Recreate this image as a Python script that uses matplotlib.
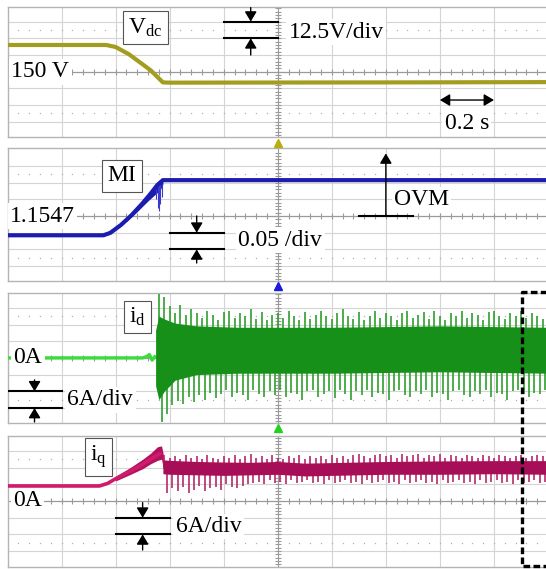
import numpy as np
import matplotlib.pyplot as plt
from matplotlib.lines import Line2D

plt.rcParams['font.family'] = ['Liberation Serif', 'DejaVu Serif']
plt.rcParams['mathtext.fontset'] = 'custom'
plt.rcParams['mathtext.rm'] = 'Liberation Serif'
plt.rcParams['mathtext.it'] = 'Liberation Serif:italic'

# ---- values (time in s) ----
vdc_t = [0.00, 0.365, 0.40, 0.45, 0.50, 0.53, 0.56, 0.575, 0.60, 1.00, 1.50, 2.00]
vdc_v = [170.0, 170.0, 168.5, 163.0, 155.5, 151.0, 145.0, 142.0, 141.8, 141.9, 142.0, 142.2]

mi_t = [0.00, 0.355, 0.38, 0.42, 0.46, 0.50, 0.53, 0.555, 0.575, 2.00]
mi_v = [1.097, 1.097, 1.104, 1.128, 1.158, 1.193, 1.222, 1.248, 1.262, 1.262]
mi_band_t = [0.44, 0.48, 0.52, 0.55, 0.565, 0.575]
mi_band_lo = [1.138, 1.168, 1.200, 1.222, 1.232, 1.250]
mi_spike_t = [0.548, 0.556, 0.561, 0.566, 0.571]
mi_spike_lo = [1.205, 1.180, 1.170, 1.190, 1.212]

id_pre_t = [0.00, 0.50, 0.515, 0.525, 0.535, 0.545]
id_pre_v = [0.0, 0.0, 0.5, 1.2, -0.8, 0.4]
id_core_t = [0.548, 0.56, 0.58, 0.62, 0.70, 0.85, 1.20, 1.60, 2.00]
id_core_hi = [10.0, 15.0, 14.0, 12.5, 11.5, 11.0, 11.0, 11.5, 11.0]
id_core_lo = [-10.0, -15.0, -12.0, -8.0, -6.0, -5.5, -5.5, -5.0, -5.5]
id_spike_hi = [
    23.0, 22.0, 18.5, 16.0, 19.0, 15.5, 17.5, 16.0, 14.5, 17.0,
    15.5, 13.5, 16.5, 17.0, 14.5, 16.0, 15.0, 17.5, 14.0, 16.5,
    13.5, 15.5, 16.0, 14.5, 17.0, 15.0, 13.5, 16.5, 14.0, 15.5,
    17.0, 15.0, 14.0, 16.0, 17.5, 15.0, 14.0, 16.5, 13.5, 15.0,
    17.0, 14.5, 16.0, 15.0, 13.5, 16.0, 17.0, 14.5, 15.5, 16.5,
    14.0, 17.0, 15.0, 13.5, 16.0, 15.0, 17.0, 14.5, 16.0, 15.5,
    13.5, 16.5, 17.0, 15.0, 14.0, 16.0, 15.0, 17.0, 14.5, 16.0,
    15.0, 14.0, 16.5]
id_spike_lo = [
    -23.0, -20.0, -17.0, -15.5, -16.5, -14.0, -16.0, -13.5, -15.0, -12.5,
    -14.5, -13.0, -11.5, -14.0, -12.5, -13.5, -15.0, -11.5, -13.0, -14.0,
    -12.0, -13.5, -11.5, -14.0, -12.5, -13.0, -15.0, -12.0, -11.5, -14.0,
    -13.0, -12.0, -14.5, -11.5, -13.0, -15.0, -12.0, -13.5, -11.5, -14.0,
    -12.5, -13.0, -15.0, -12.0, -11.5, -13.5, -14.0, -12.0, -13.0, -11.5,
    -14.0, -12.5, -13.0, -15.0, -12.0, -11.5, -13.5, -14.0, -12.0, -13.0,
    -11.5, -14.0, -12.5, -13.0, -15.0, -12.0, -11.5, -13.0, -14.0, -12.5,
    -13.0, -11.5, -14.0]

iq_t = [0.00, 0.34, 0.37, 0.40, 0.43, 0.46, 0.49, 0.52, 0.55, 0.565]
iq_v = [5.4, 5.4, 6.3, 8.0, 9.6, 11.0, 12.6, 14.4, 16.3, 17.0]
iq_band_t = [0.40, 0.46, 0.50, 0.53, 0.555, 0.57, 0.578]
iq_band_hi = [8.8, 12.4, 15.0, 17.2, 19.5, 19.8, 16.0]
iq_band_lo = [7.2, 9.8, 11.6, 13.4, 14.6, 15.0, 11.0]
iq_core_t = [0.575, 0.60, 0.70, 0.80, 0.90, 1.00, 1.10, 1.20, 1.40, 1.60, 1.80, 2.00]
iq_core_hi = [14.8, 14.6, 14.2, 14.0, 13.9, 14.2, 13.6, 13.8, 14.2, 14.4, 14.5, 14.5]
iq_core_lo = [9.8, 9.6, 9.4, 9.2, 9.4, 9.6, 9.0, 9.2, 9.6, 9.6, 9.8, 9.6]
iq_spike_hi = [
    16.5, 15.5, 16.0, 15.0, 16.5, 15.5, 16.0, 15.0, 16.5, 15.5,
    15.0, 16.0, 15.5, 16.5, 15.0, 16.0, 17.0, 15.5, 16.0, 15.0,
    16.5, 15.5, 15.0, 16.0, 15.5, 16.5, 15.0, 16.0, 15.5, 16.0,
    15.0, 16.5, 15.5, 16.0, 15.0, 16.5, 17.0, 16.0, 15.5, 16.5,
    17.0, 16.0, 16.5, 15.5, 17.0, 16.0, 16.5, 17.0, 15.5, 16.5,
    16.0, 17.0, 15.5, 16.5, 16.0, 15.5, 16.5, 16.0, 15.5, 16.5,
    16.0, 15.5, 16.5, 16.0, 15.5, 16.0, 16.5, 15.5, 16.0, 16.5,
    16.0, 15.5]
iq_spike_lo = [
    3.0, 4.5, 3.5, 5.0, 3.0, 4.0, 5.5, 3.5, 4.5, 5.0, 4.0, 6.0, 5.0, 4.5, 5.5, 6.0,
    6.5, 7.0, 6.0, 7.5, 6.5, 7.0, 6.0, 7.5, 6.5, 7.0,
    7.5, 6.5, 7.0, 6.0, 7.5, 6.5, 7.0, 7.5, 6.5, 7.0,
    6.0, 7.5, 6.5, 7.0, 7.5, 6.5, 7.0, 6.0, 7.5, 6.5,
    7.0, 7.5, 6.5, 7.0, 6.0, 7.5, 6.5, 7.0, 7.5, 6.5,
    7.0, 6.0, 7.5, 6.5, 7.0, 7.5, 6.5, 7.0, 6.0, 7.5,
    6.5, 7.0, 7.5, 6.5, 7.0, 6.5]

id_spike_t = np.arange(0.56, 2.001, 0.02)
iq_spike_t = np.arange(0.58, 2.001, 0.02)

# ---- scope screen geometry (pixels) ----
W, H = 546, 569
X0 = 7.5
DIV_X = 54.05
DIV_Y = 16.7
ARROW = dict(arrowstyle='-|>,head_length=0.5,head_width=0.3', color='k',
             lw=1.0, mutation_scale=12, shrinkA=0, shrinkB=0)


def make_panel(fig, top, bottom, center, ref, per_div):
    ax = fig.add_axes([X0 / W, 1 - bottom / H, 10 * DIV_X / W, (bottom - top) / H])
    ax.set_xlim(0, 2.0)
    ax.set_ylim(ref - (bottom - center) / DIV_Y * per_div,
                ref + (center - top) / DIV_Y * per_div)
    ax.set_xticks([])
    ax.set_yticks([])
    for s in ax.spines.values():
        s.set_color('#b4b4b4')
        s.set_linewidth(1.0)
    for k in range(1, 10):
        ax.axvline(0.2 * k, color='#9a9a9a' if k == 5 else '#d4d4d4', lw=0.8, zorder=0)
    for d in (-3, -2, -1, 1, 2, 3):
        ax.axhline(ref + d * per_div, color='#d4d4d4', lw=0.8, zorder=0)
    minor = np.arange(0.04, 2.0, 0.04)
    for d in (-2.5, 2.5):
        ax.plot(minor, np.full(minor.size, ref + d * per_div), ls='none', marker='s',
                ms=0.9, mew=0, color='#b0b0b0', zorder=0)
    ax.axhline(ref, color='#9a9a9a', lw=0.9, zorder=0)
    ax.plot(minor, np.full(minor.size, ref), ls='none', marker='|', ms=4, mew=0.8,
            color='#9a9a9a', zorder=0)
    vt = ref + np.arange(-3.8, 3.9, 0.2) * per_div
    ax.plot(np.full(vt.size, 1.0), vt, ls='none', marker='_', ms=4, mew=0.8,
            color='#9a9a9a', zorder=0)
    return ax


def div_marker(ax, x0, x1, y_hi, y_lo, stem_top, stem_bot):
    xm = (x0 + x1) / 2
    ax.plot([x0, x1], [y_hi, y_hi], color='k', lw=1.5, zorder=5)
    ax.plot([x0, x1], [y_lo, y_lo], color='k', lw=1.5, zorder=5)
    ax.annotate('', xy=(xm, y_hi), xytext=(xm, stem_top), arrowprops=ARROW, zorder=5)
    ax.annotate('', xy=(xm, y_lo), xytext=(xm, stem_bot), arrowprops=ARROW, zorder=5)


def label(ax, x, y, s, ha='left', size=17):
    ax.text(x, y, s, fontsize=size, ha=ha, va='center', zorder=6,
            bbox=dict(boxstyle='square,pad=0.1', fc='white', ec='none'))


def box_label(ax, x, y, s):
    ax.text(x, y, s, fontsize=17, ha='center', va='center', zorder=6,
            bbox=dict(boxstyle='square,pad=0.22', fc='white', ec='#555555', lw=0.8))


fig = plt.figure(figsize=(W / 100, H / 100), dpi=100)

# Vdc
ax1 = make_panel(fig, 7.3, 137.3, 71.7, 150, 12.5)
ax1.plot(vdc_t, vdc_v, color='#a39d1f', lw=3.0, zorder=3)
box_label(ax1, 0.511, 183.1, r'$\mathregular{V_{dc}}$')
label(ax1, 0.014, 150, '150 V')
div_marker(ax1, 0.8, 1.0, 187.5, 175.0, 198.0, 162.5)
label(ax1, 1.04, 179.5, '12.5V/div')
ax1.annotate('', xy=(1.6, 128.8), xytext=(1.8, 128.8),
             arrowprops=dict(ARROW, arrowstyle='<|-|>,head_length=0.5,head_width=0.3'), zorder=5)
label(ax1, 1.7, 111.6, '0.2 s', ha='center')

# MI
ax2 = make_panel(fig, 147.7, 280.7, 216.0, 1.1547, 0.05)
ax2.fill_between(mi_band_t, mi_band_lo, np.interp(mi_band_t, mi_t, mi_v),
                 color='#1c1cae', lw=0, zorder=3)
ax2.vlines(mi_spike_t, mi_spike_lo, 1.25, color='#3a3ad0', lw=0.8, zorder=3)
ax2.plot(mi_t, mi_v, color='#1c1cae', lw=3.0, zorder=3)
box_label(ax2, 0.424, 1.2745, 'MI')
label(ax2, 0.01, 1.1547, '1.1547')
ax2.plot([1.3, 1.5], [1.1547, 1.1547], color='k', lw=1.5, zorder=5)
ax2.annotate('', xy=(1.4, 1.342), xytext=(1.4, 1.1547), arrowprops=ARROW, zorder=5)
label(ax2, 1.43, 1.2027, 'OVM')
div_marker(ax2, 0.6, 0.8, 1.1047, 1.0547, 1.1547, 1.014)
label(ax2, 0.854, 1.0828, '0.05 /div')

# id
ax3 = make_panel(fig, 292.5, 423.0, 357.9, 0.0, 6.0)
ax3.plot(id_pre_t, id_pre_v, color='#3cdc3c', lw=2.4, zorder=3)
ax3.vlines(id_spike_t, -3, id_spike_hi, color='#2f9f2f', lw=1.2, zorder=3)
ax3.vlines(id_spike_t + 0.01, id_spike_lo, 3, color='#2f9f2f', lw=1.2, zorder=3)
ax3.fill_between(id_core_t, id_core_lo, id_core_hi, color='#17901a', lw=0, zorder=3)
box_label(ax3, 0.481, 14.7, r'$\mathregular{i_d}$')
label(ax3, 0.022, 0.0, '0A')
div_marker(ax3, 0.0, 0.2, -12.0, -18.0, -7.9, -23.0)
label(ax3, 0.222, -15.1, '6A/div')

# iq
ax4 = make_panel(fig, 436.0, 566.7, 501.0, 0.0, 6.0)
ax4.fill_between(iq_band_t, iq_band_lo, iq_band_hi, color='#b4115e', lw=0, zorder=3)
ax4.plot(iq_t, iq_v, color='#d01a6c', lw=2.6, zorder=3)
ax4.vlines(iq_spike_t, 12, iq_spike_hi, color='#b52a6a', lw=1.2, zorder=3)
ax4.vlines(iq_spike_t + 0.01, iq_spike_lo, 12, color='#b52a6a', lw=1.2, zorder=3)
ax4.fill_between(iq_core_t, iq_core_lo, iq_core_hi, color='#a60e58', lw=0, zorder=3)
box_label(ax4, 0.336, 15.8, r'$\mathregular{i_q}$')
label(ax4, 0.02, 0.0, '0A')
div_marker(ax4, 0.4, 0.6, -6.0, -12.0, -0.6, -17.6)
label(ax4, 0.622, -9.2, '6A/div')

# trigger markers and dashed zoom box
for y, c in ((142.5, '#b8ad10'), (285.5, '#1a1ae0'), (428.0, '#22d022')):
    fig.add_artist(Line2D([278 / W], [1 - y / H], marker='^', ms=5.5, color=c,
                          ls='none', transform=fig.transFigure))
bx = [560, 521.7, 521.7, 560]
by = [292.3, 292.3, 566.0, 566.0]
fig.add_artist(Line2D([x / W for x in bx], [1 - y / H for y in by], color='k', lw=2.4,
                      ls=(0, (2, 1)), transform=fig.transFigure))

fig.savefig('out.png', dpi=100, facecolor='white')
